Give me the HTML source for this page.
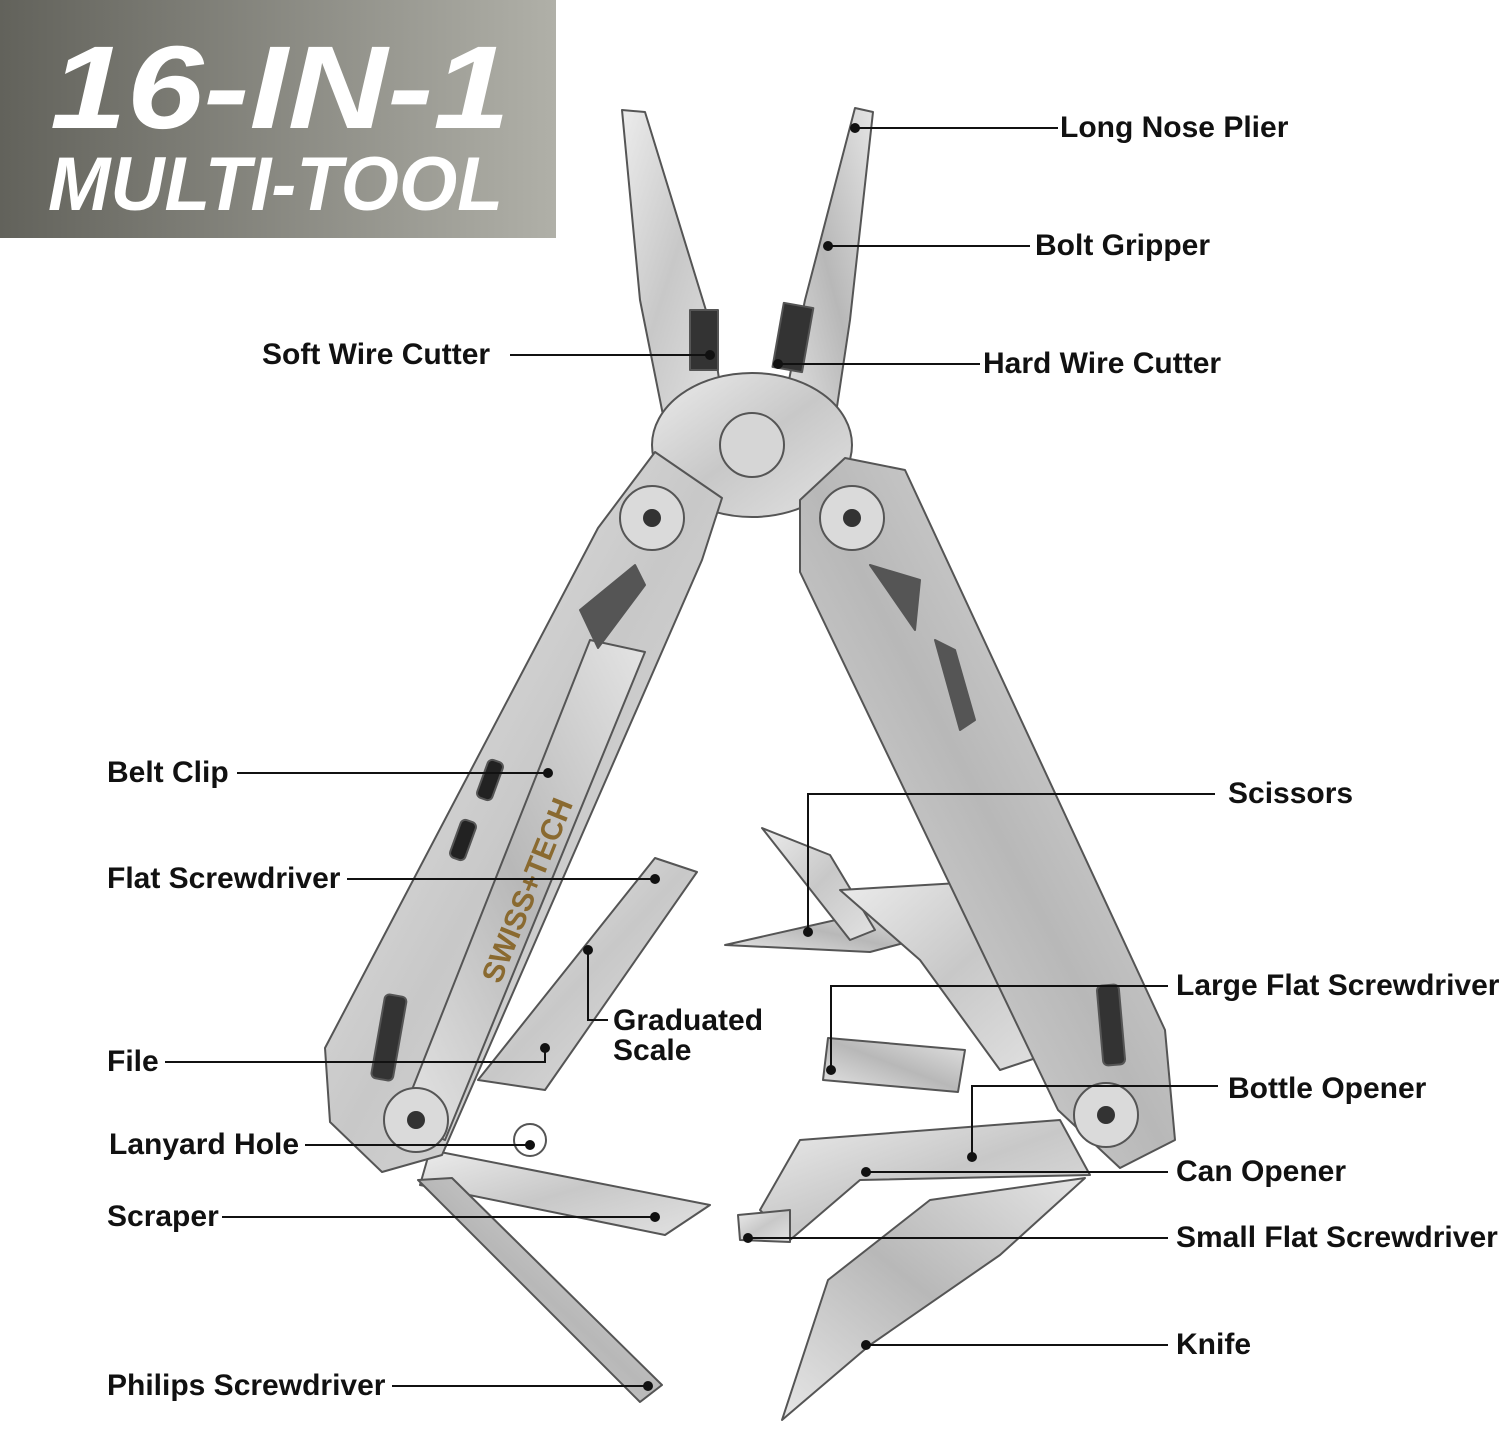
<!DOCTYPE html>
<html><head><meta charset="utf-8"><style>
html,body{margin:0;padding:0;background:#fff}
body{width:1500px;height:1452px;position:relative;overflow:hidden}
svg{position:absolute;left:0;top:0}
</style></head><body>
<svg width="1500" height="1452" viewBox="0 0 1500 1452" xmlns="http://www.w3.org/2000/svg">
<defs>
<linearGradient id="hg" x1="0" x2="1" y1="0" y2="0"><stop offset="0" stop-color="#62625b"/><stop offset="1" stop-color="#b0b0a8"/></linearGradient>
<linearGradient id="met" x1="0" x2="1" y1="0" y2="1"><stop offset="0" stop-color="#ececec"/><stop offset="0.5" stop-color="#c8c8c8"/><stop offset="1" stop-color="#e2e2e2"/></linearGradient>
<linearGradient id="met2" x1="1" x2="0" y1="0" y2="1"><stop offset="0" stop-color="#e4e4e4"/><stop offset="0.5" stop-color="#b8b8b8"/><stop offset="1" stop-color="#e6e6e6"/></linearGradient>
</defs>
<rect x="0" y="0" width="556" height="238" fill="url(#hg)"/>
<g font-family="Liberation Sans, sans-serif" font-weight="bold" font-style="italic" fill="#fff">
<text x="50" y="128" font-size="118" textLength="460" lengthAdjust="spacingAndGlyphs">16-IN-1</text>
<text x="48" y="210" font-size="76" textLength="455" lengthAdjust="spacingAndGlyphs">MULTI-TOOL</text>
</g>

<g stroke="#555" stroke-width="2" stroke-linejoin="round">
<polygon points="622,110 645,112 712,330 722,400 665,425 640,300" fill="url(#met)"/>
<polygon points="855,108 873,112 850,320 832,440 785,400 805,300" fill="url(#met2)"/>
<rect x="690" y="310" width="28" height="60" fill="#333"/>
<rect x="778" y="305" width="30" height="65" fill="#333" transform="rotate(10 793 337)"/>
<ellipse cx="752" cy="445" rx="100" ry="72" fill="url(#met)"/>
<circle cx="752" cy="445" r="32" fill="#d6d6d6"/>
<polygon points="430,1150 710,1205 665,1235 420,1185" fill="url(#met)"/>
<polygon points="418,1180 452,1178 662,1385 640,1402" fill="url(#met2)"/>
<polygon points="655,858 697,872 545,1090 478,1080" fill="url(#met)"/>
<polygon points="725,945 880,910 915,940 870,952" fill="url(#met2)"/>
<polygon points="762,828 830,855 875,930 850,940" fill="url(#met)"/>
<polygon points="840,890 1010,880 1060,1050 1000,1070 920,960" fill="url(#met)"/>
<polygon points="828,1038 965,1050 958,1092 823,1080" fill="url(#met2)"/>
<polygon points="760,1210 800,1140 1060,1120 1090,1175 860,1180 790,1240" fill="url(#met)"/>
<polygon points="738,1215 790,1210 790,1242 740,1240" fill="url(#met)"/>
<polygon points="782,1420 828,1280 930,1200 1085,1178 1000,1255 870,1345" fill="url(#met2)"/>
<polygon points="655,452 722,498 702,560 442,1155 382,1172 330,1122 325,1048 598,528" fill="url(#met)"/>
<polygon points="845,458 905,470 1165,1030 1175,1140 1120,1168 1058,1110 800,572 800,500" fill="url(#met2)"/>
<polygon points="590,640 645,652 445,1140 400,1120" fill="url(#met2)"/>
<polygon points="580,610 635,565 645,585 598,648" fill="#555"/>
<polygon points="870,565 920,580 915,630" fill="#555"/>
<polygon points="935,640 955,650 975,720 960,730" fill="#555"/>
<rect x="378" y="995" width="22" height="85" rx="5" fill="#333" transform="rotate(10 389 1037)"/>
<rect x="1100" y="985" width="22" height="80" rx="5" fill="#333" transform="rotate(-5 1111 1025)"/>
<rect x="482" y="760" width="16" height="40" rx="5" fill="#222" transform="rotate(20 490 780)"/>
<rect x="455" y="820" width="16" height="40" rx="5" fill="#222" transform="rotate(20 463 840)"/>
<circle cx="652" cy="518" r="32" fill="#dadada"/>
<circle cx="852" cy="518" r="32" fill="#dadada"/>
<circle cx="416" cy="1120" r="32" fill="#dadada"/>
<circle cx="1106" cy="1115" r="32" fill="#dadada"/>
<circle cx="530" cy="1140" r="16" fill="#fff"/>
</g>
<g fill="#333"><circle cx="652" cy="518" r="9"/><circle cx="852" cy="518" r="9"/><circle cx="416" cy="1120" r="9"/><circle cx="1106" cy="1115" r="9"/></g>
<text x="0" y="0" transform="translate(500,985) rotate(-68)" font-family="Liberation Sans, sans-serif" font-weight="bold" font-size="30" fill="#8a6a30">SWISS+TECH</text>

<g stroke="#111" stroke-width="2" fill="none">
<path d="M855 128H1058"/><path d="M828 246H1030"/><path d="M510 355H710"/><path d="M778 364H980"/>
<path d="M237 773H548"/><path d="M347 879H655"/><path d="M588 950V1020H608"/><path d="M165 1062H545V1048"/>
<path d="M305 1145H530"/><path d="M222 1217H655"/><path d="M392 1386H648"/>
<path d="M1215 794H808V932"/><path d="M1168 986H831V1070"/><path d="M1218 1086H972V1157"/>
<path d="M866 1172H1168"/><path d="M748 1238H1168"/><path d="M866 1345H1168"/>
</g>
<g fill="#111">
<circle cx="855" cy="128" r="5"/><circle cx="828" cy="246" r="5"/><circle cx="710" cy="355" r="5"/><circle cx="778" cy="364" r="5"/>
<circle cx="548" cy="773" r="5"/><circle cx="655" cy="879" r="5"/><circle cx="588" cy="950" r="5"/><circle cx="545" cy="1048" r="5"/>
<circle cx="530" cy="1145" r="5"/><circle cx="655" cy="1217" r="5"/><circle cx="648" cy="1386" r="5"/>
<circle cx="808" cy="932" r="5"/><circle cx="831" cy="1070" r="5"/><circle cx="972" cy="1157" r="5"/>
<circle cx="866" cy="1172" r="5"/><circle cx="748" cy="1238" r="5"/><circle cx="866" cy="1345" r="5"/>
</g>
<g font-family="Liberation Sans, sans-serif" font-weight="bold" font-size="30" fill="#111">
<text x="1060" y="137">Long Nose Plier</text>
<text x="1035" y="255">Bolt Gripper</text>
<text x="262" y="364">Soft Wire Cutter</text>
<text x="983" y="373">Hard Wire Cutter</text>
<text x="107" y="782">Belt Clip</text>
<text x="107" y="888">Flat Screwdriver</text>
<text x="613" y="1030">Graduated</text>
<text x="613" y="1060">Scale</text>
<text x="107" y="1071">File</text>
<text x="109" y="1154">Lanyard Hole</text>
<text x="107" y="1226">Scraper</text>
<text x="107" y="1395">Philips Screwdriver</text>
<text x="1228" y="803">Scissors</text>
<text x="1176" y="995">Large Flat Screwdriver</text>
<text x="1228" y="1098">Bottle Opener</text>
<text x="1176" y="1181">Can Opener</text>
<text x="1176" y="1247">Small Flat Screwdriver</text>
<text x="1176" y="1354">Knife</text>
</g>
</svg>
</body></html>
